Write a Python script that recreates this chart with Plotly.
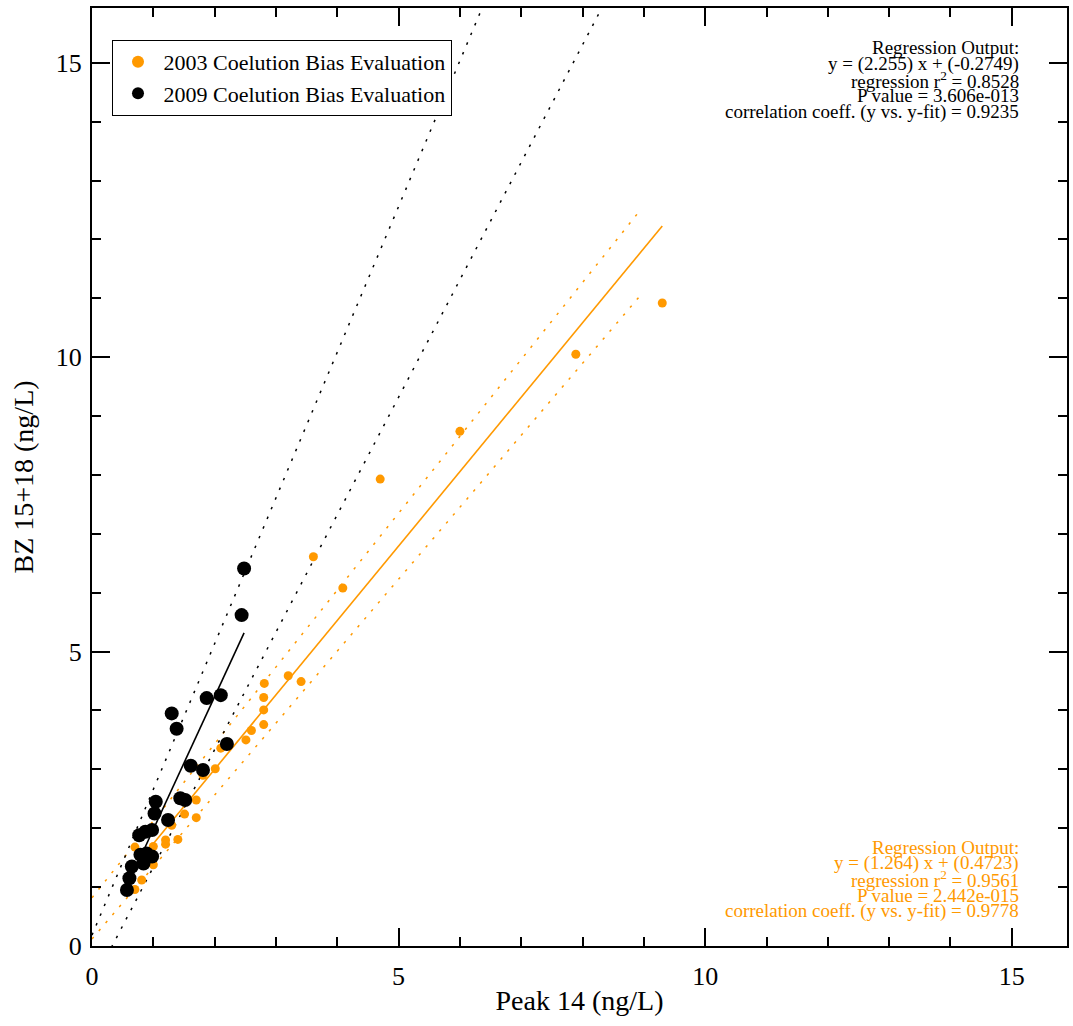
import plotly.graph_objects as go

# 2003 evaluation: Peak 14 vs BZ 15+18 (ng/L)
x2003 = [0.70, 0.81, 1.00, 0.70, 1.00, 1.20, 1.20, 1.40, 1.30, 1.51, 1.70, 1.70,
         1.81, 2.01, 2.10, 2.51, 2.60, 2.80, 2.80, 2.80, 2.81, 3.41, 3.20, 4.09,
         3.61, 4.70, 6.00, 7.89, 9.30]
y2003 = [0.96, 1.12, 1.38, 1.68, 1.69, 1.73, 1.80, 1.81, 2.05, 2.24, 2.18, 2.48,
         2.90, 3.01, 3.36, 3.50, 3.66, 3.76, 4.01, 4.22, 4.46, 4.49, 4.59, 6.08,
         6.61, 7.93, 8.74, 10.05, 10.92]

# 2009 evaluation
x2009 = [2.48, 2.44, 2.10, 1.87, 1.30, 1.38, 2.20, 1.61, 1.81, 1.44, 1.52, 1.04,
         1.02, 1.24, 0.98, 0.87, 0.77, 0.89, 0.98, 0.79, 0.84, 0.65, 0.61, 0.57]
y2009 = [6.41, 5.62, 4.26, 4.21, 3.95, 3.69, 3.43, 3.06, 2.99, 2.51, 2.48, 2.45,
         2.25, 2.14, 1.97, 1.94, 1.88, 1.57, 1.52, 1.55, 1.40, 1.35, 1.15, 0.95]

# Regression results
fit2003 = dict(slope=1.264, intercept=0.4723, r2=0.9561, p="2.442e-015", r=0.9778)
fit2009 = dict(slope=2.255, intercept=-0.2749, r2=0.8528, p="3.606e-013", r=0.9235)

# Dotted bounds (slope, intercept) and the x span they are drawn over
bounds2003 = [(1.306, 0.82), (1.222, 0.12)]
bounds2009 = [(2.475, 0.185), (1.995, -0.655)]
bound_span = [0.0, 8.95]

ORANGE = "#FF9900"
BLACK = "#000000"
FONT = "Liberation Serif"

fig = go.Figure()


def line_pts(slope, intercept, xs):
    return list(xs), [slope * v + intercept for v in xs]


for (s, b) in bounds2003:
    lx, ly = line_pts(s, b, bound_span)
    fig.add_trace(go.Scatter(x=lx, y=ly, mode="lines", showlegend=False,
                             line=dict(color=ORANGE, width=1.5, dash="2.5px,8px"),
                             hoverinfo="skip"))
for (s, b) in bounds2009:
    lx, ly = line_pts(s, b, bound_span)
    fig.add_trace(go.Scatter(x=lx, y=ly, mode="lines", showlegend=False,
                             line=dict(color=BLACK, width=1.5, dash="2.5px,8px"),
                             hoverinfo="skip"))

# Fitted lines across the range of each data set
lx, ly = line_pts(fit2003["slope"], fit2003["intercept"], [min(x2003), max(x2003)])
fig.add_trace(go.Scatter(x=lx, y=ly, mode="lines", showlegend=False,
                         line=dict(color=ORANGE, width=1.6), hoverinfo="skip"))
lx, ly = line_pts(fit2009["slope"], fit2009["intercept"], [min(x2009), max(x2009)])
fig.add_trace(go.Scatter(x=lx, y=ly, mode="lines", showlegend=False,
                         line=dict(color=BLACK, width=1.6), hoverinfo="skip"))

fig.add_trace(go.Scatter(x=x2003, y=y2003, mode="markers",
                         name="2003 Coelution Bias Evaluation",
                         marker=dict(color=ORANGE, size=9, line=dict(width=0))))
fig.add_trace(go.Scatter(x=x2009, y=y2009, mode="markers",
                         name="2009 Coelution Bias Evaluation",
                         marker=dict(color=BLACK, size=14, line=dict(width=0))))

# Regression summaries
def summary(fit):
    return [
        "Regression Output:",
        "y = (%.3f) x + (%s)" % (fit["slope"], ("%.4f" % fit["intercept"])),
        "regression r<sup>2</sup> = %.4f" % fit["r2"],
        "P value = %s" % fit["p"],
        "correlation coeff. (y vs. y-fit) = %.4f" % fit["r"],
    ]

# rows 16 px apart (plot area is 938 px tall)
step = 16 / 938
top_rows = [0.9574 - i * step for i in range(5)]
bot_rows = [0.1055 - i * step for i in range(5)]
for text, yy in zip(summary(fit2009), top_rows):
    fig.add_annotation(text=text, xref="paper", yref="paper", x=0.953, y=yy,
                       xanchor="right", yanchor="middle", showarrow=False,
                       font=dict(family=FONT, size=19, color=BLACK))
for text, yy in zip(summary(fit2003), bot_rows):
    fig.add_annotation(text=text, xref="paper", yref="paper", x=0.953, y=yy,
                       xanchor="right", yanchor="middle", showarrow=False,
                       font=dict(family=FONT, size=19, color=ORANGE))

axis_common = dict(
    showgrid=False, zeroline=False, showline=True, linecolor="black", linewidth=2,
    mirror="allticks", ticks="inside", ticklen=18, tickwidth=1.5, tickcolor="black",
    dtick=5, tick0=0,
    minor=dict(ticks="inside", ticklen=9, dtick=1, tickwidth=1.5, tickcolor="black"),
    tickfont=dict(family=FONT, size=26, color="black"),
)

fig.update_layout(
    width=1073, height=1026,
    margin=dict(l=92, r=4, t=8, b=80),
    paper_bgcolor="white", plot_bgcolor="white",
    font=dict(family=FONT, color="black"),
    xaxis=dict(range=[0, 15.9], title=dict(text="Peak 14 (ng/L)",
               font=dict(family=FONT, size=28), standoff=0),
               ticklabelstandoff=6, **axis_common),
    yaxis=dict(range=[0, 15.93], title=dict(text="BZ 15+18 (ng/L)",
               font=dict(family=FONT, size=28), standoff=14),
               ticklabelstandoff=3, **axis_common),
    legend=dict(x=0.02, y=0.966, xanchor="left", yanchor="top",
                bgcolor="white", bordercolor="black", borderwidth=1,
                font=dict(family=FONT, size=22, color="black"),
                itemsizing="constant", itemwidth=41),
    showlegend=True,
)

fig.write_html("out.html")
